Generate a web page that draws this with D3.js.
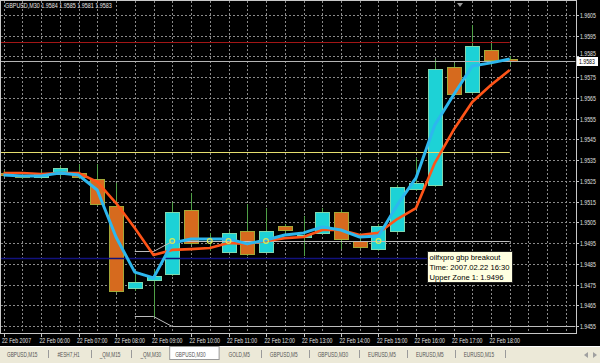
<!DOCTYPE html>
<html>
<head>
<meta charset="utf-8">
<script src="https://cdn.jsdelivr.net/npm/d3@7"></script>
<style>
html, body { margin: 0; padding: 0; background: #000; }
svg { display: block; font-family: "Liberation Sans", Arial, sans-serif; }
</style>
</head>
<body>
<svg id="chart" width="600" height="363"></svg>
<script>
// ---- data (GBPUSD M30, 22 Feb 2007, 05:00 .. 18:30) ----
var symbol = "GBPUSD,M30";
var opens  = [1.9529, 1.9528, 1.9527, 1.9528, 1.9529, 1.9526, 1.9513, 1.9473, 1.9477, 1.9480,
              1.9511, 1.9494, 1.9491, 1.9501, 1.9491, 1.9503, 1.9498, 1.9500, 1.9510, 1.9496,
              1.9492, 1.9501, 1.9521, 1.9523, 1.9580, 1.9568, 1.9588, 1.9584];
var highs  = [1.9530, 1.9529, 1.9530, 1.9532, 1.9533, 1.9533, 1.9524, 1.9481, 1.9482, 1.9515,
              1.9519, 1.9500, 1.9501, 1.9514, 1.9512, 1.9504, 1.9508, 1.9512, 1.9511, 1.9500,
              1.9504, 1.9523, 1.9536, 1.9584, 1.9582, 1.9600, 1.9592, 1.9585];
var lows   = [1.9527, 1.9526, 1.9526, 1.9527, 1.9526, 1.9513, 1.9471, 1.9472, 1.9459, 1.9479,
              1.9494, 1.9491, 1.9490, 1.9489, 1.9490, 1.9500, 1.9489, 1.9500, 1.9492, 1.9492,
              1.9491, 1.9500, 1.9520, 1.9522, 1.9566, 1.9567, 1.9581, 1.9581];
var closes = [1.9528, 1.9527, 1.9529, 1.9531, 1.9527, 1.9514, 1.9472, 1.9476, 1.9479, 1.9510,
              1.9495, 1.9494, 1.9500, 1.9490, 1.9501, 1.9501, 1.9499, 1.9510, 1.9497, 1.9493,
              1.9503, 1.9522, 1.9524, 1.9579, 1.9567, 1.9590, 1.9583, 1.9583];

// moving averages
var maFast = [1.95278, 1.95274, 1.95274, 1.95288, 1.95278, 1.95206, 1.94979, 1.94810, 1.94782, 1.94950,
              1.94970, 1.94970, 1.94970, 1.94946, 1.94965, 1.94989, 1.94999, 1.95028, 1.95013, 1.94979,
              1.94984, 1.95134, 1.95264, 1.95519, 1.95664, 1.95804, 1.95819, 1.95838];
var maSlow = [1.95288, 1.95288, 1.95283, 1.95288, 1.95288, 1.95245, 1.95143, 1.95023, 1.94892, 1.94917,
              1.94921, 1.94926, 1.94950, 1.94946, 1.94960, 1.94974, 1.94979, 1.95013, 1.95013, 1.94989,
              1.94999, 1.95066, 1.95119, 1.95336, 1.95495, 1.95630, 1.95712, 1.95785];

var priceTicks = [1.9455, 1.9465, 1.9475, 1.9485, 1.9495, 1.9505, 1.9515, 1.9525,
                  1.9535, 1.9545, 1.9555, 1.9565, 1.9575, 1.9585, 1.9595, 1.9605];
var timeLabels = ["22 Feb 2007", "22 Feb 06:00", "22 Feb 07:00", "22 Feb 08:00", "22 Feb 09:00",
                  "22 Feb 10:00", "22 Feb 11:00", "22 Feb 12:00", "22 Feb 13:00", "22 Feb 14:00",
                  "22 Feb 15:00", "22 Feb 16:00", "22 Feb 17:00", "22 Feb 18:00"];
var labelBars = [0, 2, 4, 6, 8, 10, 12, 14, 16, 18, 20, 22, 24, 26];

// horizontal objects: red, bid, yellow, blue
var levelPrices = [1.9592, 1.9583, 1.9539, 1.9488];
var levelEnds   = [27, 30.5, 27, 22.6];

// breakout zones
var zoneBars  = [7, 8, 9, 27];
var upperZone = [1.9491, 1.9491, 1.9496, 1.9496];
var lowerBars = [7, 8, 9, 30.5];
var lowerZone = [1.9460, 1.9460, 1.9455, 1.9455];
var signalBars = [9, 11, 12, 14, 20];
var signalPrice = 1.9496;

var tooltipLines = ["oilfxpro gbp breakout", "Time: 2007.02.22 16:30", "Upper Zone 1: 1.9496"];
var tabNames = ["GBPUSD,M15", "#ESH7,H1", "_QM,M15", "_QM,M30", "GBPUSD,M30", "GOLD,M5",
                "GBPUSD,M5", "GBPUSD,M30", "EURUSD,M5", "EURUSD,M5", "EURUSD,M15"];
var activeTab = 4;

// ---- drawing ----
var svg = d3.select("#chart");
var frame = {left: 0.5, top: 0.5, right: 576.5, bottom: 333.5};
var SX = 0.74; // MT4 small font is narrow

var x = d3.scaleLinear().domain([0, 27]).range([3.5, 509.75]);
var y = d3.scaleLinear().domain([1.9455, 1.9605]).range([326, 15]);

function px(v) { return Math.round(v) + 0.5; }

function smallText(g, tx, ty, str, size, fill) {
	return g.append("text")
		.attr("transform", "translate(" + tx + "," + ty + ") scale(" + SX + ",1)")
		.attr("font-size", size)
		.attr("fill", fill)
		.text(str);
}

svg.append("rect").attr("width", 600).attr("height", 347).attr("fill", "#000");

svg.append("clipPath").attr("id", "plotClip")
	.append("rect").attr("x", 1).attr("y", 1).attr("width", 575).attr("height", 332);

var plot = svg.append("g").attr("clip-path", "url(#plotClip)");

// grid
var gridBars = d3.range(0, 31);
plot.selectAll("line.vgrid").data(gridBars).enter().append("line")
	.attr("class", "vgrid")
	.attr("x1", function(d){ return px(x(d)); })
	.attr("x2", function(d){ return px(x(d)); })
	.attr("y1", 1).attr("y2", 333)
	.attr("stroke", "#8a8a8a").attr("stroke-dasharray", "2,2");

plot.selectAll("line.hgrid").data(priceTicks).enter().append("line")
	.attr("class", "hgrid")
	.attr("x1", 1).attr("x2", 576)
	.attr("y1", function(d){ return px(y(d)); })
	.attr("y2", function(d){ return px(y(d)); })
	.attr("stroke", "#8a8a8a").attr("stroke-dasharray", "2,2");

// candles
var bars = d3.range(opens.length).map(function(i){
	return {i: i, o: opens[i], h: highs[i], l: lows[i], c: closes[i]};
});
var wickColor = "#4fa046";

plot.selectAll("line.wick").data(bars).enter().append("line")
	.attr("class", "wick")
	.attr("x1", function(d){ return px(x(d.i)); })
	.attr("x2", function(d){ return px(x(d.i)); })
	.attr("y1", function(d){ return Math.round(y(d.h)); })
	.attr("y2", function(d){ return Math.round(y(d.l)); })
	.attr("stroke", wickColor);

plot.selectAll("rect.body").data(bars).enter().append("rect")
	.attr("class", "body")
	.attr("x", function(d){ return px(x(d.i)) - 7; })
	.attr("y", function(d){ return px(y(Math.max(d.o, d.c))); })
	.attr("width", 14)
	.attr("height", function(d){ return Math.round(Math.abs(y(d.o) - y(d.c))); })
	.attr("fill", function(d){ return d.c > d.o ? "#1dd2d6" : (d.c < d.o ? "#d66a1e" : "none"); })
	.attr("stroke", function(d){ return d.c >= d.o ? "#7fd8b0" : "#a3a838"; });

// horizontal objects
var levelColors = ["#a31616", "#b4b4b4", "#e6df6e", "#12127e"];
levelPrices.forEach(function(p, k){
	plot.append("line")
		.attr("x1", 0).attr("x2", x(levelEnds[k]))
		.attr("y1", px(y(p))).attr("y2", px(y(p)))
		.attr("stroke", levelColors[k])
		.attr("stroke-width", k === 3 ? 1.5 : 1);
});

// zone lines
var zoneLine = d3.line().x(function(d){ return x(d[0]); }).y(function(d){ return px(y(d[1])); });
plot.append("path")
	.attr("d", zoneLine(d3.zip(zoneBars, upperZone)))
	.attr("fill", "none").attr("stroke", "#bdbdbd");
plot.append("path")
	.attr("d", zoneLine(d3.zip(lowerBars, lowerZone)))
	.attr("fill", "none").attr("stroke", "#bdbdbd");

// moving averages
var maLine = d3.line().x(function(d, i){ return x(i); }).y(function(d){ return y(d); });
plot.append("path").attr("d", maLine(maSlow))
	.attr("fill", "none").attr("stroke", "#ff5418").attr("stroke-width", 2.6)
	.attr("stroke-linejoin", "round");
plot.append("path").attr("d", maLine(maFast))
	.attr("fill", "none").attr("stroke", "#2db7ee").attr("stroke-width", 3)
	.attr("stroke-linejoin", "round");

// signal markers
plot.selectAll("circle.sig").data(signalBars).enter().append("circle")
	.attr("class", "sig")
	.attr("cx", function(d){ return x(d); })
	.attr("cy", y(signalPrice))
	.attr("r", 2.4)
	.attr("fill", "none")
	.attr("stroke", "#d8ea5a").attr("stroke-width", 1.2);

// chart shift marker
svg.append("path").attr("d", "M457,3 L463,3 L460,7 Z").attr("fill", "#9a9a9a");

// frame
svg.append("rect")
	.attr("x", frame.left).attr("y", frame.top)
	.attr("width", frame.right - frame.left).attr("height", frame.bottom - frame.top)
	.attr("fill", "none").attr("stroke", "#c8c8c8");

// title
var last = bars[bars.length - 1];
smallText(svg, 5, 8, symbol + "  " + [last.o, last.h, last.l, last.c].map(d3.format(".4f")).join(" "), 7.3, "#e6e6e6");

// price axis
var yAxis = svg.append("g");
var bidY = Math.round(y(last.c));
priceTicks.forEach(function(p){
	var ty = Math.round(y(p));
	yAxis.append("line")
		.attr("x1", 576).attr("x2", 579)
		.attr("y1", ty + 0.5).attr("y2", ty + 0.5)
		.attr("stroke", "#c8c8c8");
	// label that would sit under the bid box is nudged up, as MT4 leaves only its top visible
	var ly = Math.abs(ty - bidY) < 9 ? bidY - 5 : ty + 2.5;
	smallText(yAxis, 580, ly, d3.format(".4f")(p), 7, "#e0e0e0");
});
yAxis.append("rect")
	.attr("x", 577).attr("y", bidY - 4)
	.attr("width", 21).attr("height", 9)
	.attr("fill", "#fff");
smallText(yAxis, 579, bidY + 3, d3.format(".4f")(last.c), 7, "#000");

// time axis
var xAxis = svg.append("g");
labelBars.forEach(function(b, k){
	xAxis.append("line")
		.attr("x1", px(x(b))).attr("x2", px(x(b)))
		.attr("y1", 333).attr("y2", 337)
		.attr("stroke", "#c8c8c8");
	smallText(xAxis, x(b) - 1.5, 343, timeLabels[k], 7, "#e0e0e0");
});

// tooltip
var tip = svg.append("g");
tip.append("rect")
	.attr("x", 427.5).attr("y", 251.5).attr("width", 85).attr("height", 31)
	.attr("fill", "#ffffe1").attr("stroke", "#222");
tooltipLines.forEach(function(t, k){
	tip.append("text")
		.attr("x", 429.5).attr("y", 260 + k * 10)
		.attr("font-size", 7.6).attr("fill", "#000")
		.text(t);
});

// tab strip
var tabs = svg.append("g");
tabs.append("rect").attr("y", 346).attr("width", 600).attr("height", 17).attr("fill", "#ece9d8");
tabs.append("line").attr("x1", 0).attr("x2", 600).attr("y1", 346.5).attr("y2", 346.5).attr("stroke", "#fff");
var tx = 7;
tabNames.forEach(function(name, i){
	var t = smallText(tabs, tx, 357, name, 6.4, "#555");
	var w = t.node().getComputedTextLength() * SX;
	if (i === activeTab) {
		tabs.insert("rect", "text")
			.attr("x", tx - 5.5).attr("y", 346.5).attr("width", w + 19).attr("height", 13)
			.attr("fill", "#fff").attr("stroke", "#9a9a9a");
		tx = tx + w + 23;
	} else if (i + 1 === activeTab) {
		tx = tx + w + 14;
	} else {
		tabs.append("line")
			.attr("x1", px(tx + w + 11)).attr("x2", px(tx + w + 11))
			.attr("y1", 350).attr("y2", 358).attr("stroke", "#9a9a9a");
		tx = tx + w + 20;
	}
});
tabs.append("path").attr("d", "M588,352 L584,355 L588,358 Z").attr("fill", "#a0a0a0");
tabs.append("path").attr("d", "M593,352 L597,355 L593,358 Z").attr("fill", "#a0a0a0");
</script>
</body>
</html>
